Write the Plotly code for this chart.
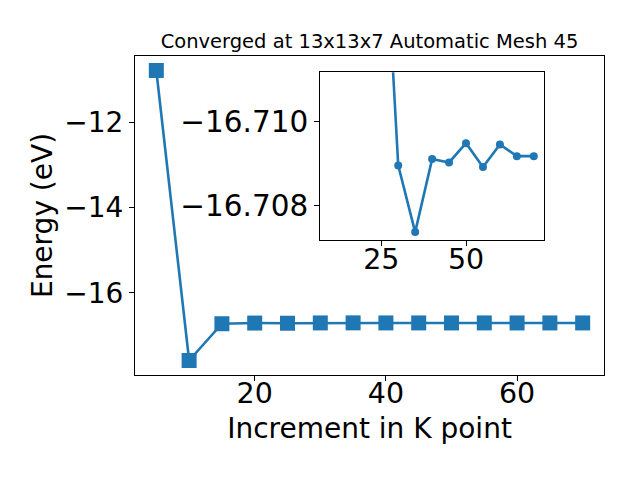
import plotly.graph_objects as go

# Data
kpoints = [5, 10, 15, 20, 25, 30, 35, 40, 45, 50, 55, 60, 65, 70]
energy = [-10.79, -17.59, -16.728, -16.712, -16.7163, -16.70895, -16.70736,
          -16.70910, -16.70902, -16.70948, -16.70891, -16.70945, -16.70917, -16.70917]
inset_start = 1  # inset plots from k = 10 onward

main_yticks = [-16, -14, -12]
main_xticks = [20, 40, 60]
inset_xticks = [25, 50]
inset_yticks = [-16.710, -16.708]

title_text = "Converged at 13x13x7 Automatic Mesh 45"
xlabel = "Increment in K point"
ylabel = "Energy (eV)"

C = "#1f77b4"
FONT = "DejaVu Sans"


def minus(s):
    return s.replace("-", "\u2212")


fig = go.Figure()
fig.add_trace(go.Scatter(
    x=kpoints, y=energy, mode="lines+markers",
    line=dict(color=C, width=2.6),
    marker=dict(symbol="square", size=15, color=C),
    xaxis="x", yaxis="y", showlegend=False,
))
fig.add_trace(go.Scatter(
    x=kpoints[inset_start:], y=energy[inset_start:], mode="lines+markers",
    line=dict(color=C, width=2.6),
    marker=dict(symbol="circle", size=8, color=C),
    xaxis="x2", yaxis="y2", showlegend=False, cliponaxis=True,
))


def axis_common(size):
    return dict(showline=True, linecolor="black", linewidth=1.1, mirror=True,
                ticks="outside", ticklen=5, tickwidth=1.1, tickcolor="black",
                showgrid=False, zeroline=False, automargin=False,
                tickfont=dict(family=FONT, size=size, color="black"))


fig.update_layout(
    template="none",
    width=640, height=480,
    margin=dict(l=135, r=36, t=56, b=105),
    paper_bgcolor="white", plot_bgcolor="white",
    font=dict(family=FONT, color="black"),
    title=dict(text=title_text, x=369.5 / 640, xanchor="center",
               y=1 - 41 / 480, yanchor="middle", yref="container",
               automargin=False,
               font=dict(family=FONT, size=19.5, color="black")),
    xaxis=dict(domain=[0, 1], range=[1.75, 73.25], tickvals=main_xticks,
               ticktext=[str(v) for v in main_xticks], ticklabelstandoff=-12,
               title=dict(text=xlabel, font=dict(family=FONT, size=28, color="black"), standoff=9),
               **axis_common(28.5)),
    yaxis=dict(domain=[0, 1], range=[-17.93, -10.45], tickvals=main_yticks,
               ticktext=[minus(str(v)) for v in main_yticks],
               title=dict(text=ylabel, font=dict(family=FONT, size=28, color="black"), standoff=3),
               **axis_common(28)),
    xaxis2=dict(domain=[0.395, 0.872], anchor="y2", range=[7, 73],
                tickvals=inset_xticks, ticktext=[str(v) for v in inset_xticks],
                ticklabelstandoff=-11,
                **axis_common(28.5)),
    yaxis2=dict(domain=[0.423, 0.949], anchor="x2", range=[-16.70717, -16.71117],
                tickvals=inset_yticks, ticktext=[minus(f"{v:.3f}") for v in inset_yticks],
                **axis_common(29.5)),
)

fig.write_html(
    "out.html",
    config={"displayModeBar": False},
    post_script="document.body.style.margin='0';document.body.style.overflow='hidden';",
)
